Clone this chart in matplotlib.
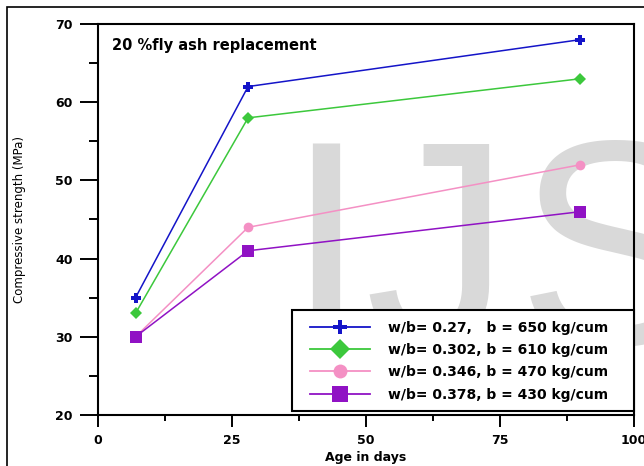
import matplotlib
matplotlib.use("Agg")
import matplotlib.pyplot as plt
from matplotlib.ticker import MultipleLocator
from matplotlib.patches import Rectangle

plt.rcParams['font.family'] = ['DejaVu Sans']

# compressive strength vs age, 20 % fly ash mixes
age = [7, 28, 90]
s_027 = [35, 62, 68]
s_0302 = [33, 58, 63]
s_0346 = [30, 44, 52]
s_0378 = [30, 41, 46]
labels = ["w/b= 0.27,   b = 650 kg/cum",
          "w/b= 0.302, b = 610 kg/cum",
          "w/b= 0.346, b = 470 kg/cum",
          "w/b= 0.378, b = 430 kg/cum"]

W, H = 644, 466
fig = plt.figure(figsize=(W / 100, H / 100), dpi=100)
fig.add_artist(Rectangle((7 / W, -0.1), 1.2, 1 - 7 / H + 0.1,
                         transform=fig.transFigure, fill=False,
                         edgecolor='black', linewidth=1.2))

# watermark letters, behind everything
wm = dict(fontsize=210, color='#d9d9d9', zorder=-5, va='baseline',
          ha='left', family='Liberation Sans')
base = (H - 344) / H
fig.text(285 / W, base, "I", **wm)
fig.text(364 / W, base, "J", **wm)
fig.text(517 / W, base, "S", **wm)

ax = fig.add_axes([98 / W, 51 / H, 536 / W, 391 / H])
ax.set_facecolor('none')

series = [
    (s_027, '#1414c8', 'P', 7.5, 10),
    (s_0302, '#3cc83c', 'D', 6.5, 10),
    (s_0346, '#f490c4', 'o', 7, 10),
    (s_0378, '#9012c4', 's', 9, 11),
]
handles = []
for (vals, col, mk, ms, lms), lab in zip(series, labels):
    ax.plot(age, vals, color=col, marker=mk, markersize=ms, linewidth=1.1,
            markeredgewidth=0, zorder=3)
    h, = ax.plot([], [], color=col, marker=mk, markersize=lms,
                 linewidth=1.3, markeredgewidth=0)
    handles.append(h)

ax.set_xlim(0, 100)
ax.set_ylim(20, 70)
ax.xaxis.set_major_locator(MultipleLocator(25))
ax.xaxis.set_minor_locator(MultipleLocator(12.5))
ax.yaxis.set_major_locator(MultipleLocator(10))
ax.yaxis.set_minor_locator(MultipleLocator(5))
ax.tick_params(which='major', axis='y', length=13, width=1.4, pad=5)
ax.tick_params(which='minor', axis='y', length=6.5, width=1.4)
ax.tick_params(which='major', axis='x', length=8.5, width=1.4, pad=5)
ax.tick_params(which='minor', axis='x', length=4.3, width=1.4)
ax.tick_params(labelsize=9)
for lab in ax.get_xticklabels() + ax.get_yticklabels():
    lab.set_fontweight('bold')
for sp in ax.spines.values():
    sp.set_linewidth(1.5)

ax.set_xlabel("Age in days", fontsize=9, fontweight='bold', labelpad=3)
ax.set_ylabel("Compressive strength (MPa)", fontsize=8.5, labelpad=21)

ax.text(0.026, 0.946, "20 %fly ash replacement", transform=ax.transAxes,
        fontsize=10.5, fontweight='bold', va='center')

# legend box drawn separately so the entries can sit inside it freely
box = Rectangle((0.362, 0.0102), 1.0 - 0.362, 0.2685 - 0.0102,
                transform=ax.transAxes, facecolor='white', edgecolor='black',
                linewidth=1.5, zorder=4, clip_on=False)
ax.add_patch(box)
leg = ax.legend(handles, labels, loc='center left',
                bbox_to_anchor=((310 - 98) / 536, 0.138),
                prop={'weight': 'bold', 'size': 10}, frameon=False,
                handlelength=4.3, borderpad=0, labelspacing=0.6,
                handletextpad=1.3, borderaxespad=0)
leg.set_zorder(5)

fig.savefig("out.png", dpi=100)
